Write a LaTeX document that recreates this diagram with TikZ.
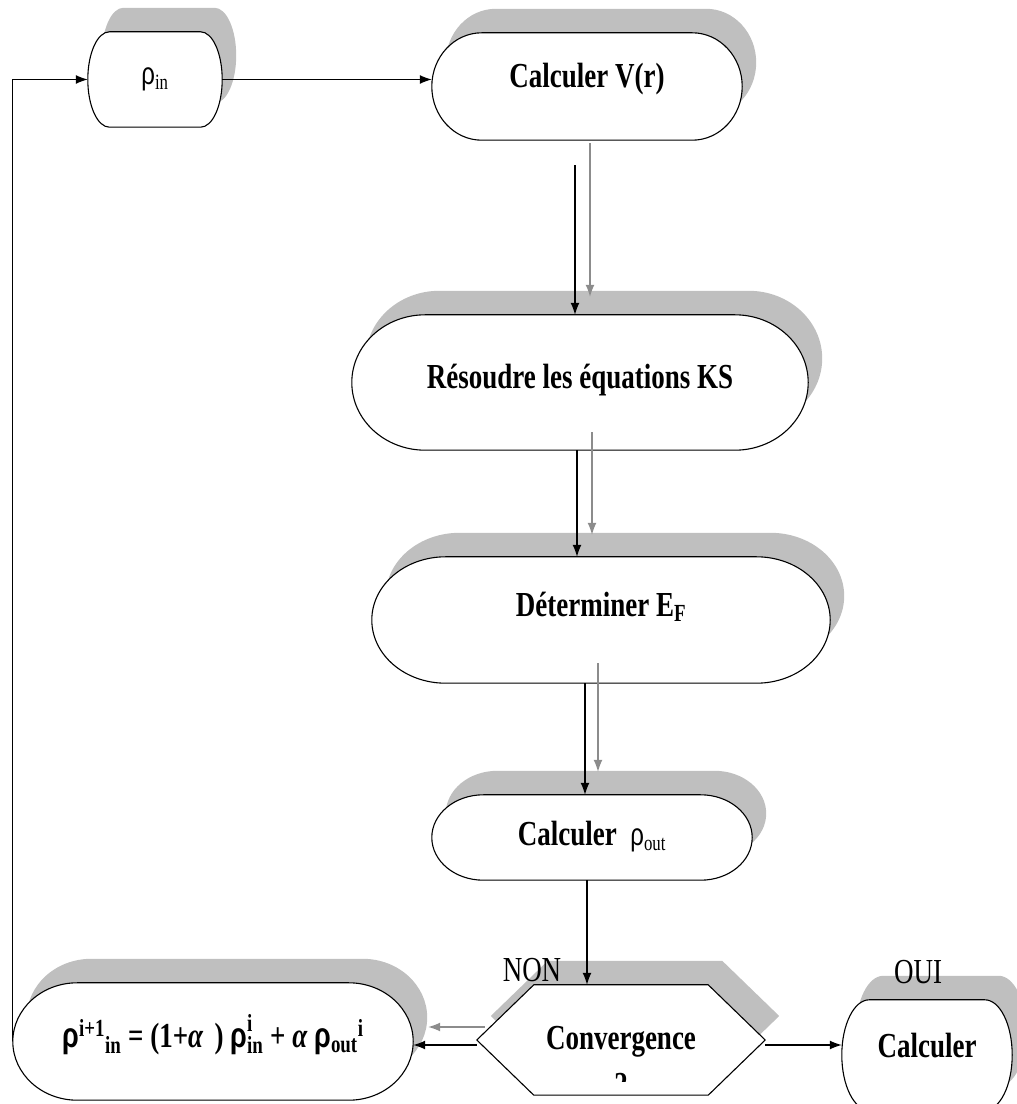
\documentclass[tikz,border=0pt]{standalone}
\usepackage{fontspec}
\setmainfont{Liberation Serif}
\newfontfamily\grsans{Liberation Sans}
\usetikzlibrary{arrows.meta,backgrounds,calc}
\newcommand\tall[1]{\scalebox{1}[1.3]{#1}}
\newcommand\rh{{\grsans ρ}}
\newcommand\termpath[2][]{\path[#1] let \p1=(#2.north east), \p2=(#2.south west),
  \n1={0.161*(\x1-\x2)}, \n2={0.5*(\y1-\y2)} in
  (\x2+\n1,\y1) -- (\x1-\n1,\y1) arc[start angle=90,end angle=-90,x radius=\n1,y radius=\n2]
  -- (\x2+\n1,\y2) arc[start angle=270,end angle=90,x radius=\n1,y radius=\n2] -- cycle;}
\newcommand\hexpath[2][]{\path[#1] let \p1=(#2.north east), \p2=(#2.south west),
  \n1={0.5*(\y1+\y2)} in
  (\x2,\n1) -- (\x2+57,\y1) -- (\x1-57,\y1) -- (\x1,\n1) -- (\x1-57,\y2) -- (\x2+57,\y2) -- cycle;}
\begin{document}
\begin{tikzpicture}[x=1pt,y=1pt,
  box/.style={inner sep=0pt,font=\fontsize{27}{32}\selectfont\bfseries,text height=#1,text depth=10pt},
  box/.default=20pt,
  tag/.style={inner sep=0pt,font=\fontsize{27}{32}\selectfont},
  flow/.style={line width=1.3pt,-{Latex[length=12pt,width=9pt]}},
  faint/.style={flow,draw=black!45},
  drop/.style={fill=black!25,transform canvas={shift={(14pt,24pt)}}},
  outline/.style={draw,line width=1.1pt,fill=white}]
  \useasboundingbox (0,0) rectangle (1017,1104);
  \node[box=20pt,minimum width=134pt,minimum height=95pt] (rhoin) at (155,1024.5)
    {\tall{\mdseries\fontsize{24}{28}\selectfont\rh\textsubscript{in}}};
  \node[box=13pt,minimum width=310pt,minimum height=107pt] (calcv) at (587,1017.5) {\tall{Calculer V(r)}};
  \node[box=23pt,minimum width=456pt,minimum height=135pt] (resoudre) at (580,721.5) {\tall{Résoudre les équations KS}};
  \node[box=3pt,minimum width=458pt,minimum height=126pt] (determiner) at (601,484) {\tall{Déterminer E\textsubscript{F}}};
  \node[box=27pt,minimum width=320pt,minimum height=85pt] (calcout) at (592,266.5)
    {\tall{Calculer\ \ {\mdseries\fontsize{24}{28}\selectfont\rh\textsubscript{out}}}};
  \begin{scope}
    \clip (400,22) rectangle (800,200);
    \node[box=30pt,minimum width=288pt,minimum height=110pt,
      label={[box=33pt,yshift=-45pt]center:\tall{?}}] (conv) at (621,64) {\tall{Convergence}};
  \end{scope}
  \node[box=23pt,minimum width=400pt,minimum height=117pt] (mix) at (213,62.5)
    {\tall{\fontsize{27}{32}\selectfont\rh\textsuperscript{i+1}\textsubscript{in} = (1+\textit{α}\, ) \rh\rlap{\raisebox{4pt}{\textsuperscript{i}}}\textsubscript{in} + \textit{α} \rh\textsubscript{out}\textsuperscript{i}}};
  \node[box=15pt,minimum width=170pt,minimum height=110pt] (fin) at (927,49) {\tall{Calculer}};
  \node[tag] (non) at (532,134) {\tall{NON}};
  \node[tag] (oui) at (918,132) {\tall{OUI}};
  \begin{scope}[on background layer]
    \foreach \nd in {rhoin,calcv,resoudre,determiner,calcout,mix,fin}{\termpath[drop]{\nd}}
    \hexpath[drop]{conv}
    \foreach \nd in {rhoin,calcv,resoudre,determiner,calcout,mix,fin}{\termpath[outline]{\nd}}
    \hexpath[outline]{conv}
  \end{scope}
  \coordinate (a1) at ($(calcv.south)+(-12,-25)$);
  \coordinate (g1) at ($(calcv.south)+(3,-3)$);
  \coordinate (a2) at ($(resoudre.south)+(-3,0)$);
  \coordinate (g2) at ($(resoudre.south)+(12,18)$);
  \coordinate (a3) at ($(determiner.south)+(-16,0)$);
  \coordinate (g3) at ($(determiner.south)+(-3,20)$);
  \coordinate (a4) at ($(calcout.south)+(-5,0)$);
  \coordinate (g5) at ($(conv.west)+(8,13)$);
  \draw[flow] (mix.west) |- (rhoin.west);
  \draw[flow] (rhoin.east) -- (rhoin.east -| calcv.west);
  \draw[flow] (a1) -- (a1 |- resoudre.north);
  \draw[faint] (g1) -- ($(g1 |- resoudre.north)+(0,18)$);
  \draw[flow] (a2) -- (a2 |- determiner.north);
  \draw[faint] (g2) -- ($(g2 |- determiner.north)+(0,22)$);
  \draw[flow] (a3) -- (a3 |- calcout.north);
  \draw[faint] (g3) -- ($(g3 |- calcout.north)+(0,23)$);
  \draw[flow] (a4) -- (a4 |- conv.north);
  \draw[flow] ([yshift=-5]conv.west) -- ([yshift=-5]conv.west -| mix.east);
  \draw[faint] (g5) -- ($(g5 -| mix.east)+(15,0)$);
  \draw[flow] ([yshift=-5]conv.east) -- ([yshift=-5]conv.east -| fin.west);
\end{tikzpicture}
\end{document}
